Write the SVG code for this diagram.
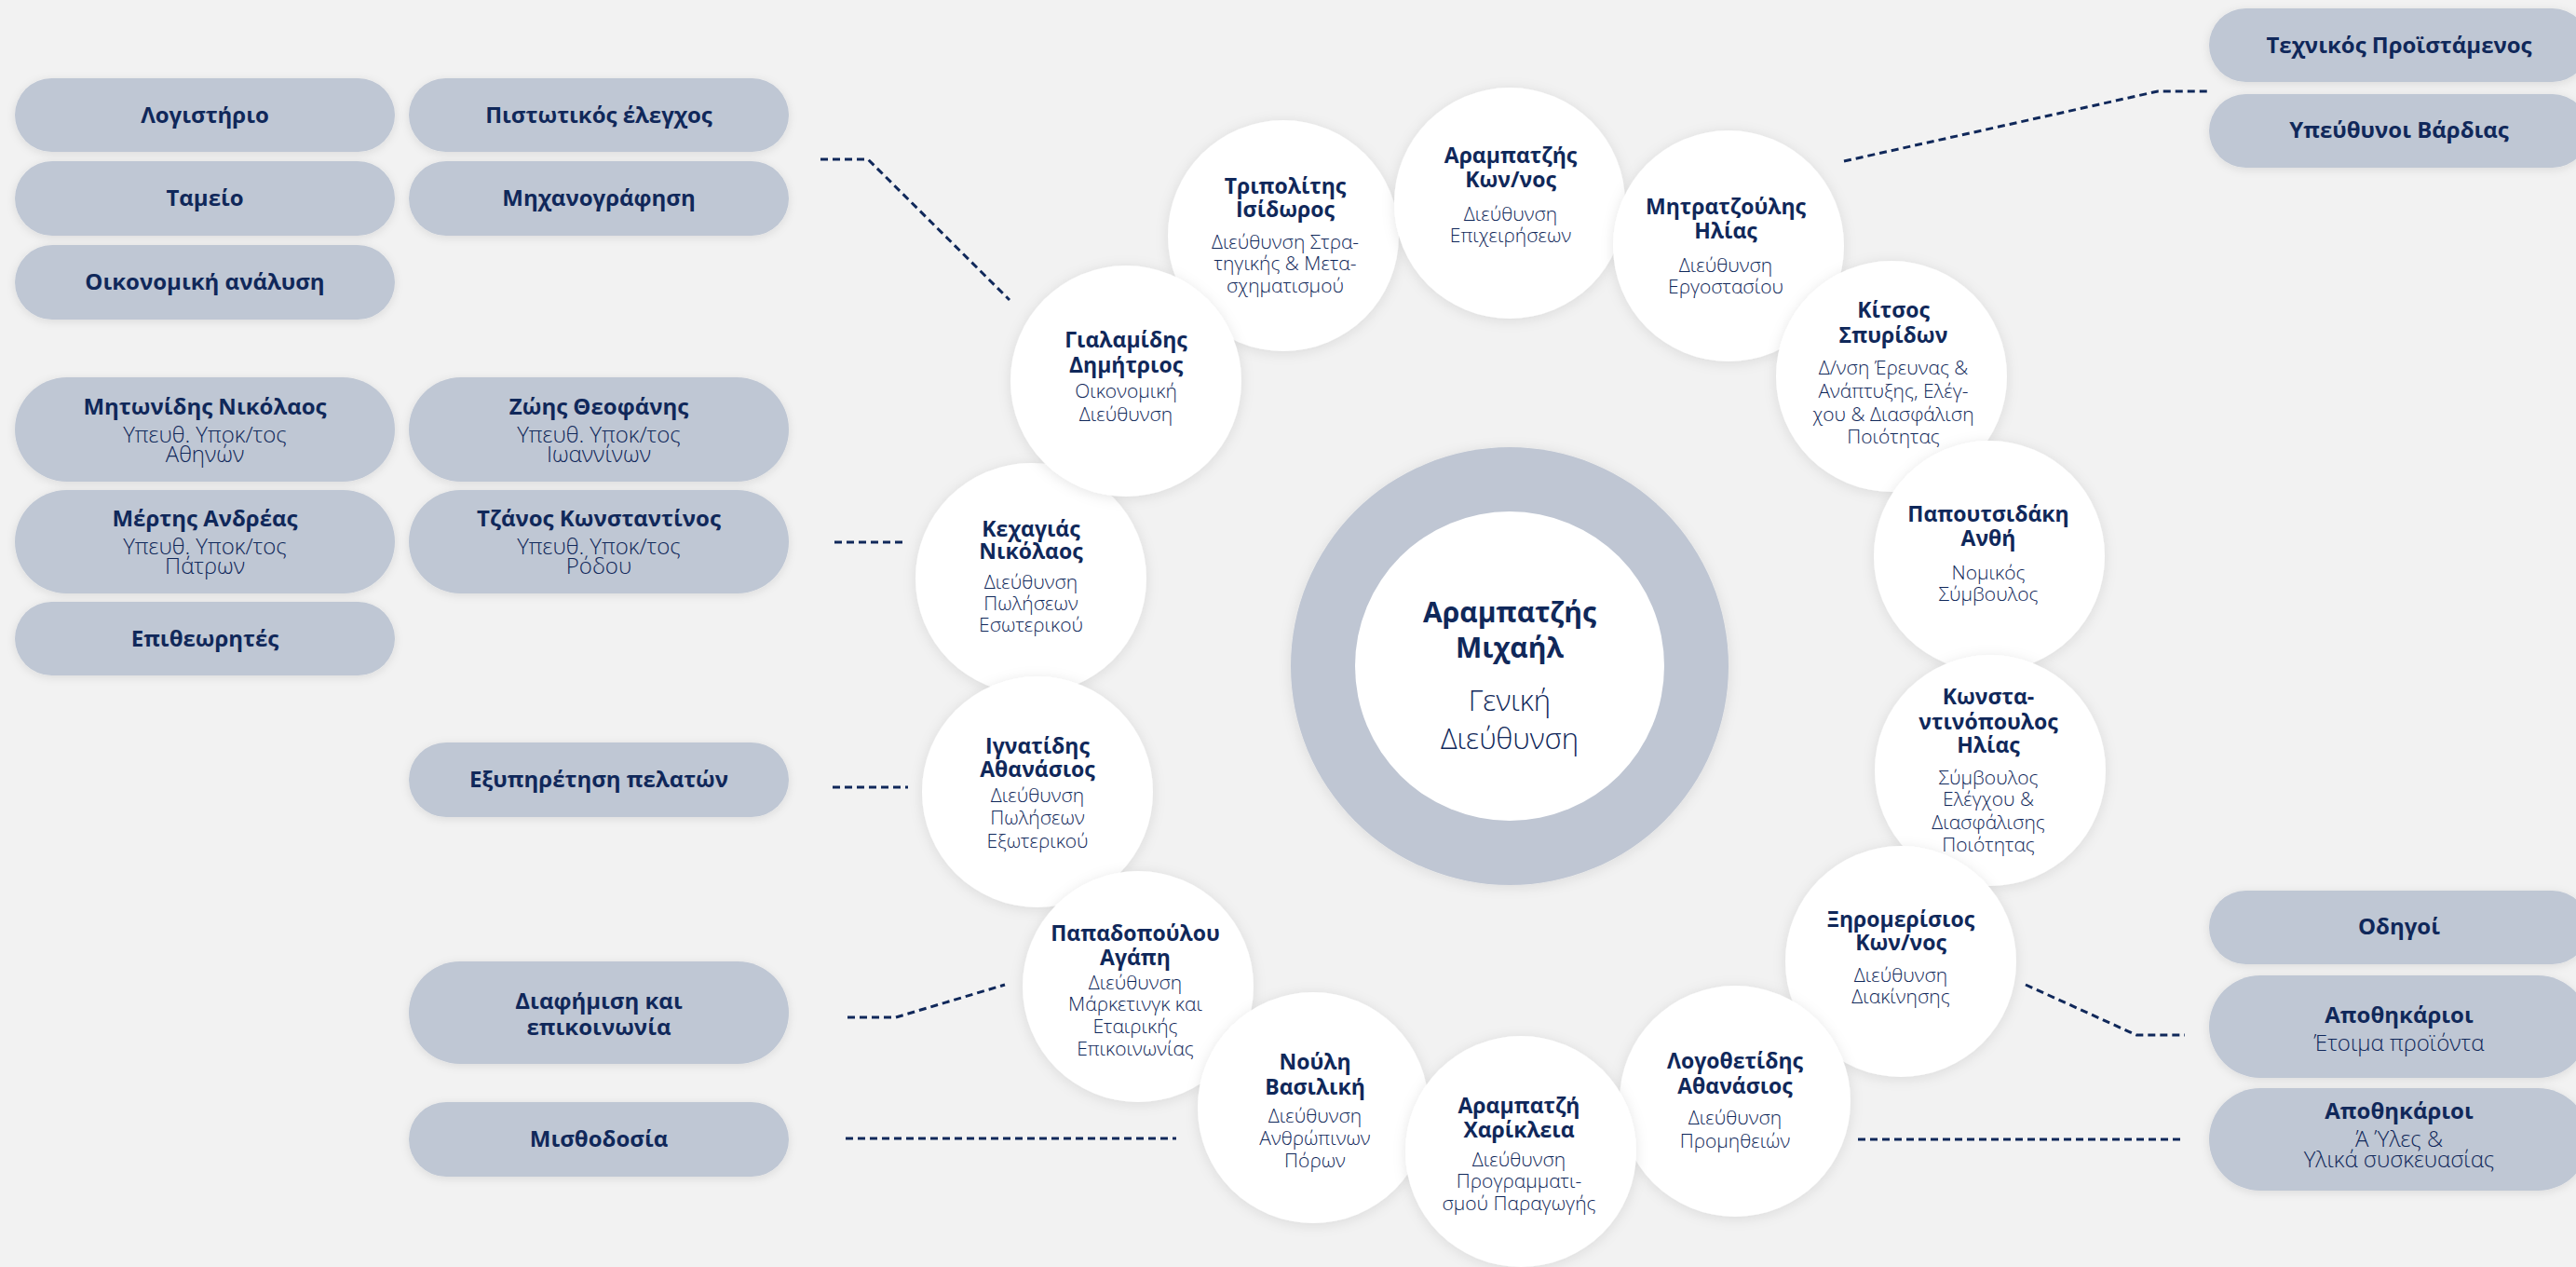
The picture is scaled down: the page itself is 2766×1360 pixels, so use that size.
<svg xmlns="http://www.w3.org/2000/svg" width="2766" height="1360" viewBox="0 0 2766 1360">
<defs>
<filter id="sh" x="-20%" y="-20%" width="140%" height="140%"><feDropShadow dx="0" dy="2" stdDeviation="7" flood-color="#000" flood-opacity="0.10"/></filter>
<filter id="shp" x="-10%" y="-30%" width="120%" height="160%"><feDropShadow dx="0" dy="2" stdDeviation="5" flood-color="#000" flood-opacity="0.10"/></filter>
<style>
.pill{fill:#bfc7d4;filter:url(#shp)}
.circ{fill:#ffffff;filter:url(#sh)}
text{font-family:"Open Sans","Noto Sans","DejaVu Sans",sans-serif;fill:#10285a;text-anchor:middle}
.pt{font-size:24px;font-weight:700}
.ps{font-size:24px;font-weight:300}
.ct{font-size:23px;font-weight:700}
.cs{font-size:21px;font-weight:300}
.mt{font-size:30px;font-weight:700}
.ms{font-size:31px;font-weight:300}
.con{fill:none;stroke:#10285a;stroke-width:3;stroke-dasharray:8 5}
</style>
</defs>
<rect width="2766" height="1360" fill="#f2f2f2"/>

<g id="connectors">
<polyline class="con" points="881,171 932,171 1084,322"/>
<line class="con" x1="896" y1="582" x2="970" y2="582"/>
<line class="con" x1="894" y1="845" x2="975" y2="845"/>
<polyline class="con" points="910,1092 962,1092 1079,1057"/>
<line class="con" x1="908" y1="1222" x2="1263" y2="1222"/>
<polyline class="con" points="1980,173 2317,98 2372,98"/>
<polyline class="con" points="2175,1057 2294,1111 2346,1111"/>
<line class="con" x1="1995" y1="1223" x2="2346" y2="1223"/>
</g>

<g id="pill-logistirio"><rect class="pill" x="16" y="84" width="408" height="79" rx="39.5"/><text class="pt" x="220" y="132">Λογιστήριο</text></g>
<g id="pill-tameio"><rect class="pill" x="16" y="173" width="408" height="80" rx="40"/><text class="pt" x="220" y="221">Ταμείο</text></g>
<g id="pill-oikonomiki"><rect class="pill" x="16" y="263" width="408" height="80" rx="40"/><text class="pt" x="220" y="311">Οικονομική ανάλυση</text></g>
<g id="pill-pistotikos"><rect class="pill" x="439" y="84" width="408" height="79" rx="39.5"/><text class="pt" x="643" y="132">Πιστωτικός έλεγχος</text></g>
<g id="pill-michanografisi"><rect class="pill" x="439" y="173" width="408" height="80" rx="40"/><text class="pt" x="643" y="221">Μηχανογράφηση</text></g>

<g id="pill-mitonidis"><rect class="pill" x="16" y="405" width="408" height="112" rx="56"/><text class="pt" x="220" y="445">Μητωνίδης Νικόλαος</text><text class="ps" x="220" y="475">Υπευθ. Υποκ/τος</text><text class="ps" x="220" y="496">Αθηνών</text></g>
<g id="pill-mertis"><rect class="pill" x="16" y="526" width="408" height="111" rx="55.5"/><text class="pt" x="220" y="565">Μέρτης Ανδρέας</text><text class="ps" x="220" y="595">Υπευθ. Υποκ/τος</text><text class="ps" x="220" y="616">Πάτρων</text></g>
<g id="pill-epitheorites"><rect class="pill" x="16" y="646" width="408" height="79" rx="39.5"/><text class="pt" x="220" y="694">Επιθεωρητές</text></g>
<g id="pill-zois"><rect class="pill" x="439" y="405" width="408" height="112" rx="56"/><text class="pt" x="643" y="445">Ζώης Θεοφάνης</text><text class="ps" x="643" y="475">Υπευθ. Υποκ/τος</text><text class="ps" x="643" y="496">Ιωαννίνων</text></g>
<g id="pill-tzanos"><rect class="pill" x="439" y="526" width="408" height="111" rx="55.5"/><text class="pt" x="643" y="565">Τζάνος Κωνσταντίνος</text><text class="ps" x="643" y="595">Υπευθ. Υποκ/τος</text><text class="ps" x="643" y="616">Ρόδου</text></g>

<g id="pill-exypiretisi"><rect class="pill" x="439" y="797" width="408" height="80" rx="40"/><text class="pt" x="643" y="845">Εξυπηρέτηση πελατών</text></g>
<g id="pill-diafimisi"><rect class="pill" x="439" y="1032" width="408" height="110" rx="55"/><text class="pt" x="643" y="1083">Διαφήμιση και</text><text class="pt" x="643" y="1111">επικοινωνία</text></g>
<g id="pill-misthodosia"><rect class="pill" x="439" y="1183" width="408" height="80" rx="40"/><text class="pt" x="643" y="1231">Μισθοδοσία</text></g>

<g id="pill-technikos"><rect class="pill" x="2372" y="9" width="408" height="79" rx="39.5"/><text class="pt" x="2576" y="57">Τεχνικός Προϊστάμενος</text></g>
<g id="pill-vardias"><rect class="pill" x="2372" y="101" width="408" height="79" rx="39.5"/><text class="pt" x="2576" y="148">Υπεύθυνοι Βάρδιας</text></g>
<g id="pill-odigoi"><rect class="pill" x="2372" y="956" width="408" height="79" rx="39.5"/><text class="pt" x="2576" y="1003">Οδηγοί</text></g>
<g id="pill-apothikarioi1"><rect class="pill" x="2372" y="1047" width="408" height="110" rx="55"/><text class="pt" x="2576" y="1098">Αποθηκάριοι</text><text class="ps" x="2576" y="1128">Έτοιμα προϊόντα</text></g>
<g id="pill-apothikarioi2"><rect class="pill" x="2372" y="1168" width="408" height="110" rx="55"/><text class="pt" x="2576" y="1201">Αποθηκάριοι</text><text class="ps" x="2576" y="1231">Ά Ύλες &amp;</text><text class="ps" x="2576" y="1253">Υλικά συσκευασίας</text></g>

<g id="center">
<circle cx="1621" cy="715" r="235" fill="#bfc6d3" filter="url(#sh)"/>
<circle cx="1621" cy="715" r="166" fill="#ffffff"/>
<text class="mt" x="1621" y="668">Αραμπατζής</text>
<text class="mt" x="1621" y="706">Μιχαήλ</text>
<text class="ms" x="1621" y="763">Γενική</text>
<text class="ms" x="1621" y="804">Διεύθυνση</text>
</g>

<g id="c-kechagias"><circle class="circ" cx="1107" cy="621" r="124"/><text class="ct" x="1107" y="576">Κεχαγιάς</text><text class="ct" x="1107" y="600">Νικόλαος</text><text class="cs" x="1107" y="632">Διεύθυνση</text><text class="cs" x="1107" y="655">Πωλήσεων</text><text class="cs" x="1107" y="678">Εσωτερικού</text></g>
<g id="c-tripolitis"><circle class="circ" cx="1378" cy="253" r="124"/><text class="ct" x="1380" y="208">Τριπολίτης</text><text class="ct" x="1380" y="233">Ισίδωρος</text><text class="cs" x="1380" y="267">Διεύθυνση Στρα-</text><text class="cs" x="1380" y="290">τηγικής &amp; Μετα-</text><text class="cs" x="1380" y="314">σχηματισμού</text></g>
<g id="c-gialamidis"><circle class="circ" cx="1209" cy="409" r="124"/><text class="ct" x="1209" y="373">Γιαλαμίδης</text><text class="ct" x="1209" y="400">Δημήτριος</text><text class="cs" x="1209" y="427">Οικονομική</text><text class="cs" x="1209" y="452">Διεύθυνση</text></g>
<g id="c-arampatzis-kon"><circle class="circ" cx="1621" cy="218" r="124"/><text class="ct" x="1622" y="175">Αραμπατζής</text><text class="ct" x="1622" y="201">Κων/νος</text><text class="cs" x="1622" y="237">Διεύθυνση</text><text class="cs" x="1622" y="260">Επιχειρήσεων</text></g>
<g id="c-mitratzoulis"><circle class="circ" cx="1856" cy="264" r="124"/><text class="ct" x="1853" y="230">Μητρατζούλης</text><text class="ct" x="1853" y="256">Ηλίας</text><text class="cs" x="1853" y="292">Διεύθυνση</text><text class="cs" x="1853" y="315">Εργοστασίου</text></g>
<g id="c-kitsos"><circle class="circ" cx="2031" cy="404" r="124"/><text class="ct" x="2033" y="341">Κίτσος</text><text class="ct" x="2033" y="368">Σπυρίδων</text><text class="cs" x="2033" y="402">Δ/νση Έρευνας &amp;</text><text class="cs" x="2033" y="427">Ανάπτυξης, Ελέγ-</text><text class="cs" x="2033" y="452">χου &amp; Διασφάλιση</text><text class="cs" x="2033" y="476">Ποιότητας</text></g>
<g id="c-papoutsidaki"><circle class="circ" cx="2136" cy="597" r="124"/><text class="ct" x="2135" y="560">Παπουτσιδάκη</text><text class="ct" x="2135" y="586">Ανθή</text><text class="cs" x="2135" y="622">Νομικός</text><text class="cs" x="2135" y="645">Σύμβουλος</text></g>
<g id="c-konstantinopoulos"><circle class="circ" cx="2137" cy="827" r="124"/><text class="ct" x="2135" y="756">Κωνστα-</text><text class="ct" x="2135" y="783">ντινόπουλος</text><text class="ct" x="2135" y="808">Ηλίας</text><text class="cs" x="2135" y="842">Σύμβουλος</text><text class="cs" x="2135" y="865">Ελέγχου &amp;</text><text class="cs" x="2135" y="890">Διασφάλισης</text><text class="cs" x="2135" y="914">Ποιότητας</text></g>
<g id="c-xiromerisios"><circle class="circ" cx="2041" cy="1032" r="124"/><text class="ct" x="2041" y="995">Ξηρομερίσιος</text><text class="ct" x="2041" y="1020">Κων/νος</text><text class="cs" x="2041" y="1054">Διεύθυνση</text><text class="cs" x="2041" y="1077">Διακίνησης</text></g>
<g id="c-logothetidis"><circle class="circ" cx="1863" cy="1182" r="124"/><text class="ct" x="1863" y="1147">Λογοθετίδης</text><text class="ct" x="1863" y="1174">Αθανάσιος</text><text class="cs" x="1863" y="1207">Διεύθυνση</text><text class="cs" x="1863" y="1232">Προμηθειών</text></g>
<g id="c-ignatidis"><circle class="circ" cx="1114" cy="850" r="124"/><text class="ct" x="1114" y="809">Ιγνατίδης</text><text class="ct" x="1114" y="834">Αθανάσιος</text><text class="cs" x="1114" y="861">Διεύθυνση</text><text class="cs" x="1114" y="885">Πωλήσεων</text><text class="cs" x="1114" y="910">Εξωτερικού</text></g>
<g id="c-papadopoulou"><circle class="circ" cx="1222" cy="1059" r="124"/><text class="ct" x="1219" y="1010">Παπαδοπούλου</text><text class="ct" x="1219" y="1036">Αγάπη</text><text class="cs" x="1219" y="1062">Διεύθυνση</text><text class="cs" x="1219" y="1085">Μάρκετινγκ και</text><text class="cs" x="1219" y="1109">Εταιρικής</text><text class="cs" x="1219" y="1133">Επικοινωνίας</text></g>
<g id="c-nouli"><circle class="circ" cx="1410" cy="1189" r="124"/><text class="ct" x="1412" y="1148">Νούλη</text><text class="ct" x="1412" y="1175">Βασιλική</text><text class="cs" x="1412" y="1205">Διεύθυνση</text><text class="cs" x="1412" y="1229">Ανθρώπινων</text><text class="cs" x="1412" y="1253">Πόρων</text></g>
<g id="c-arampatzi-xar"><circle class="circ" cx="1633" cy="1236" r="124"/><text class="ct" x="1631" y="1195">Αραμπατζή</text><text class="ct" x="1631" y="1221">Χαρίκλεια</text><text class="cs" x="1631" y="1252">Διεύθυνση</text><text class="cs" x="1631" y="1275">Προγραμματι-</text><text class="cs" x="1631" y="1299">σμού Παραγωγής</text></g>
</svg>
